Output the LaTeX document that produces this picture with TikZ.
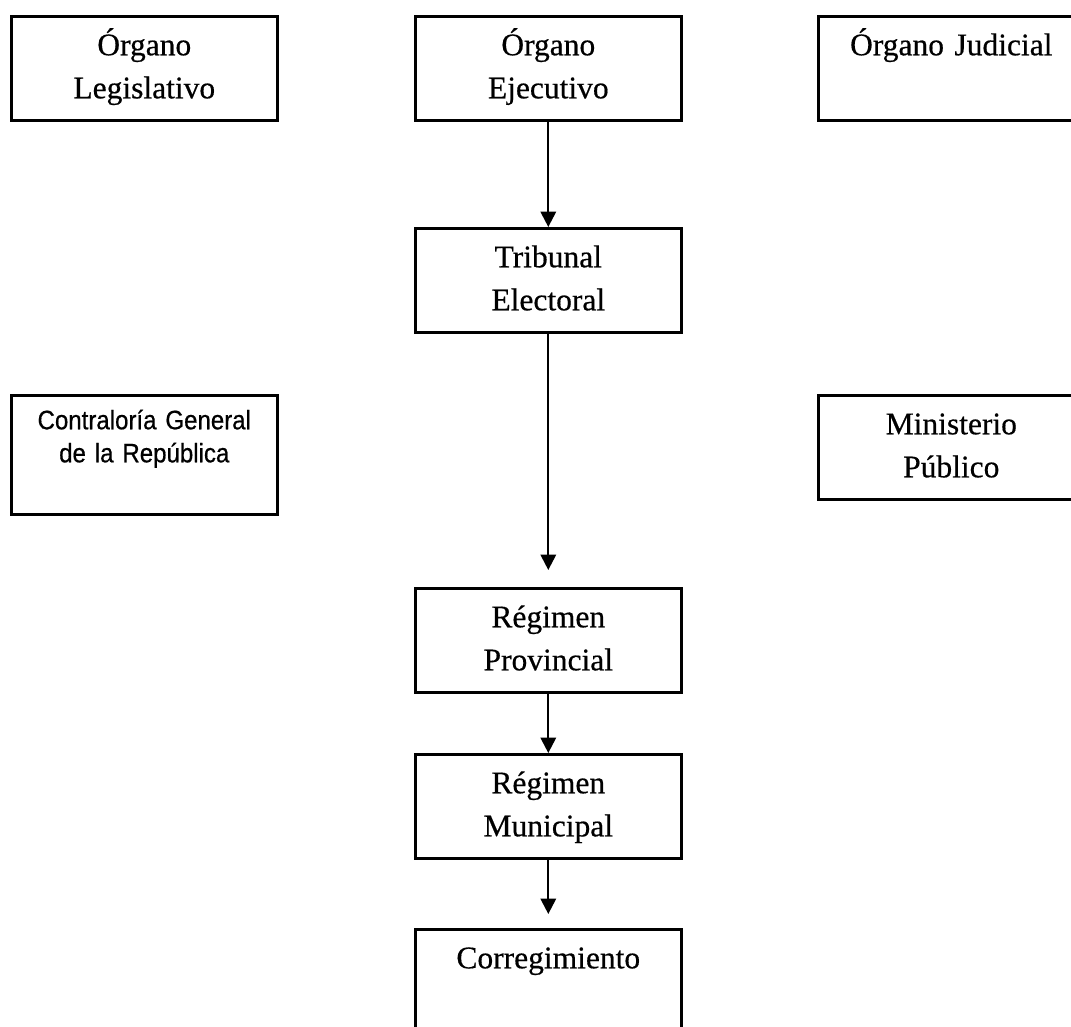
\documentclass[tikz,border=0pt]{standalone}
\usepackage{fontspec}
\setmainfont{Liberation Serif}[FakeBold=0.5]
\newfontfamily\narrowsans{Liberation Sans}[FakeStretch=0.9, FakeBold=0.6]
\usetikzlibrary{arrows.meta}

\begin{document}
\begin{tikzpicture}[
  x=0.025cm, y=-0.025cm,
  box/.style={rectangle, draw=black, line width=1.8pt, anchor=north west,
              text width=6.65cm, align=center, inner sep=0pt,
              text height=0.975cm, text depth=1.625cm,
              font=\fontsize{22.4}{30.6}\selectfont},
  tallbox/.style={box, text height=0.85cm, text depth=2.125cm,
              font=\narrowsans\fontsize{19}{23.5}\selectfont},
  arr/.style={-{Triangle[length=11pt,width=11pt]}, line width=1.6pt}
]
\clip (0,0) rectangle (1071,1026);

\node[box] (leg)  at (10,15)   {Órgano\\Legislativo};
\node[box] (eje)  at (414,15)  {Órgano\\Ejecutivo};
\node[box] (jud)  at (817,15)  {Órgano Judicial};

\node[box] (trib) at (414,227) {Tribunal\\Electoral};

\node[tallbox] (con) at (10,394) {Contraloría General\\de la República};
\node[box]     (min) at (817,394) {Ministerio\\Público};

\node[box] (prov) at (414,587) {Régimen\\Provincial};
\node[box] (mun)  at (414,753) {Régimen\\Municipal};
\node[box] (cor)  at (414,928) {Corregimiento};

\draw[arr] (eje) -- (trib);
\draw[arr, shorten >=0.425cm] (trib) -- (prov);
\draw[arr] (prov) -- (mun);
\draw[arr, shorten >=0.35cm] (mun) -- (cor);

\end{tikzpicture}
\end{document}
